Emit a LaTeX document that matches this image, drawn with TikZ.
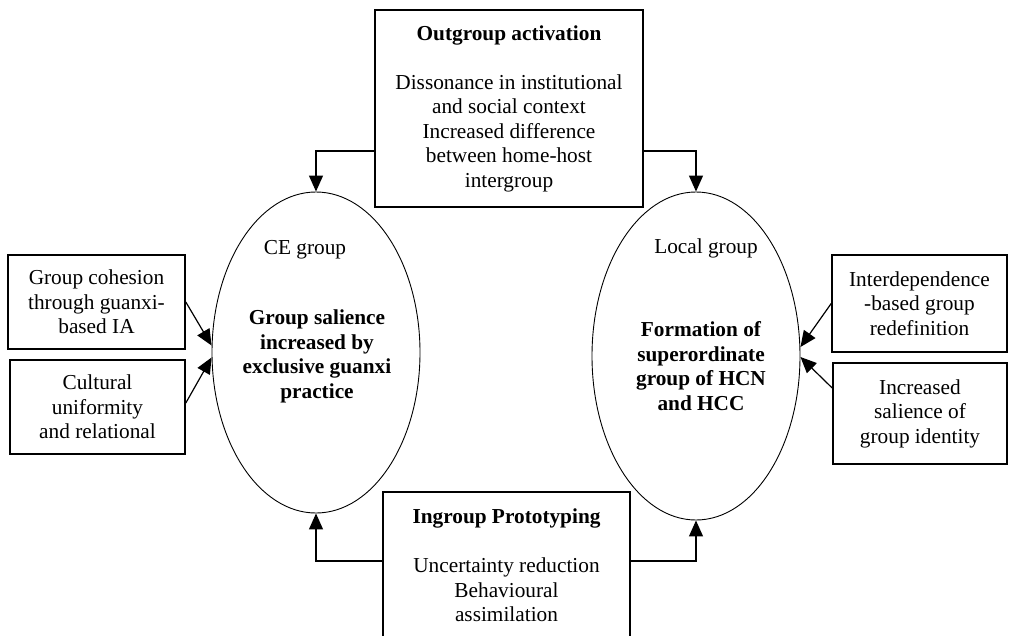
\documentclass[tikz,border=0pt]{standalone}
\usepackage{fontspec}
\setmainfont{Liberation Serif}
\usetikzlibrary{shapes.geometric,arrows.meta}
\begin{document}
\begin{tikzpicture}[x=1pt,y=-1pt,
  every node/.style={font=\fontsize{21.3}{24.5}\selectfont, align=center, inner sep=0pt},
  boldtext/.style={font=\fontsize{21.3}{24.5}\selectfont\bfseries},
  panel/.style={draw, line width=1.6pt},
  group/.style={draw, ellipse, line width=0.9pt},
  arr/.style={line width=1.2pt, -{Triangle[length=16pt,width=14pt]}}
]
\useasboundingbox (0,0) rectangle (1009,635);
\fill[white] (0,0) rectangle (1009,635);
\clip (0,0) rectangle (1009,635);

% group ellipses
\node[group, minimum width=208pt, minimum height=321pt] (ceell) at (316,352.5) {};
\node[group, minimum width=208pt, minimum height=328pt] (locell) at (696,356) {};

\node (cetitle) at (305,250) {CE group};
\node[boldtext] (cebody) at (317,356.5) {Group salience\\increased by\\exclusive guanxi\\practice};
\node (lotitle) at (706,248) {Local group};
\node[boldtext] (lobody) at (701,366) {Formation of\\superordinate\\group of HCN\\and HCC};

% process boxes
\node[panel, minimum width=268pt, minimum height=197pt] (out) at (509,108.5)
  {\textbf{Outgroup activation}\\[24.5pt]Dissonance in institutional\\and social context\\Increased difference\\between home-host\\intergroup};
\node[panel, minimum width=247pt, minimum height=147pt] (ing) at (506.5,565.5)
  {\textbf{Ingroup Prototyping}\\[24.5pt]Uncertainty reduction\\Behavioural\\assimilation};

% side boxes
\node[panel, minimum width=177pt, minimum height=94pt] (lb1) at (96.5,302)
  {Group cohesion\\through guanxi-\\based IA};
\node[panel, minimum width=175pt, minimum height=94pt] (lb2) at (97.5,407)
  {Cultural\\uniformity\\and relational};
\node[panel, minimum width=175pt, minimum height=97pt] (rb1) at (919.5,303.5)
  {Interdependence\\-based group\\redefinition};
\node[panel, minimum width=174pt, minimum height=101pt] (rb2) at (920,413.5)
  {Increased\\salience of\\group identity};

% connectors
\draw[arr] ([yshift=-42.5pt]out.west) -| (ceell.north);
\draw[arr] ([yshift=-42.5pt]out.east) -| (locell.north);
\draw[arr] ([yshift=4.5pt]ing.west) -| (ceell.south);
\draw[arr] ([yshift=4.5pt]ing.east) -| (locell.south);

\draw[arr] (lb1.east) -- ([yshift=7pt]ceell.west);
\draw[arr] ([yshift=4pt]lb2.east) -- ([yshift=-5pt]ceell.west);
\draw[arr] (rb1.west) -- ([yshift=9pt]locell.east);
\draw[arr] ([yshift=25.5pt]rb2.west) -- ([yshift=-1pt]locell.east);
\end{tikzpicture}
\end{document}
